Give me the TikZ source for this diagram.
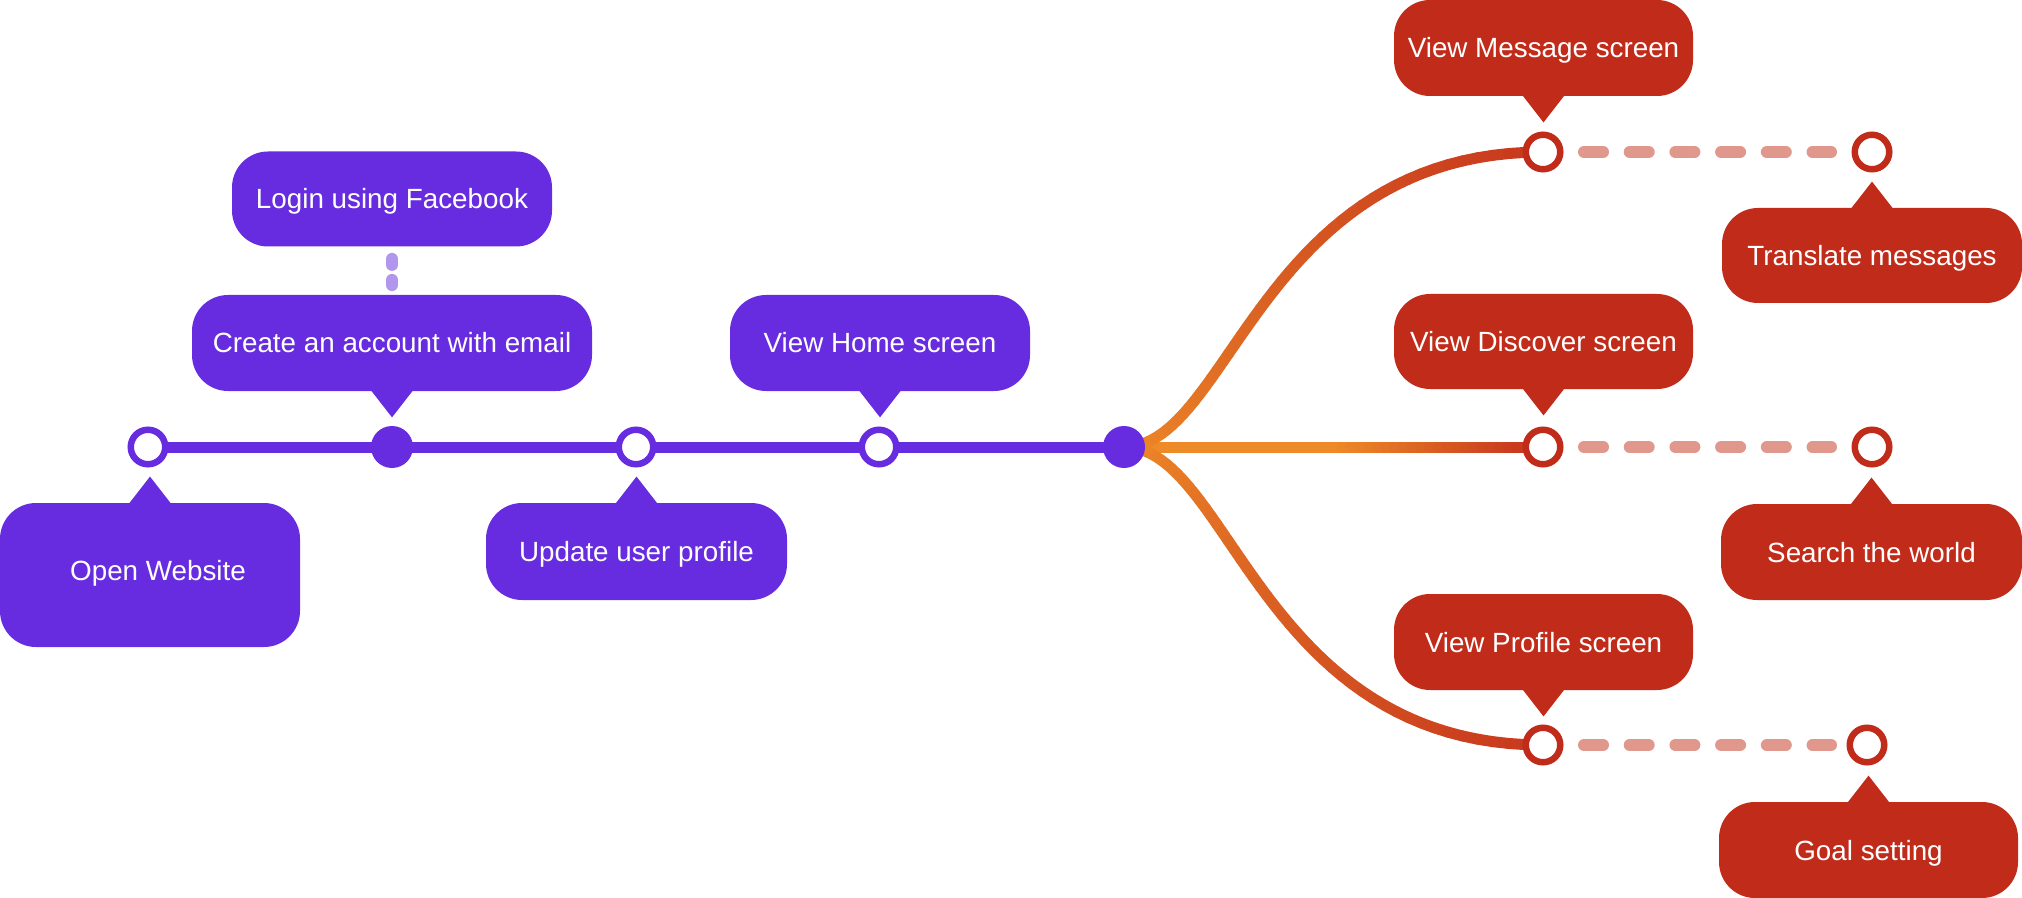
\documentclass[tikz,border=0pt]{standalone}
\usepackage{fontspec}
\setmainfont{Liberation Sans}
\usetikzlibrary{calc,backgrounds}
\definecolor{cpur}{HTML}{672CE0}
\definecolor{cpurl}{HTML}{B196EE}
\definecolor{cred}{HTML}{C12B1A}
\definecolor{credl}{HTML}{E0978C}
\definecolor{corange}{HTML}{EE8A28}
\definecolor{cendred}{HTML}{C8391D}
\begin{document}
\begin{tikzpicture}[x=0.5pt,y=-0.5pt,
  box/.style={rectangle, rounded corners=18pt, minimum height=48pt, inner sep=0pt,
    text=white, font=\fontsize{13.9pt}{16pt}\selectfont, text height=10pt, text depth=0pt},
  pbox/.style={box, fill=cpur},
  rbox/.style={box, fill=cred},
  ring/.style={circle, draw=#1, fill=white, line width=3.25pt, minimum size=17.25pt, inner sep=0pt},
  dotnode/.style={circle, fill=cpur, minimum size=21pt, inner sep=0pt},
  mainline/.style={line width=5.5pt},
  reddash/.style={draw=credl, line width=6pt, line cap=round, dash pattern=on 9.5pt off 13.35pt},
  purdash/.style={draw=cpurl, line width=6pt, line cap=round, dash pattern=on 3pt off 7.5pt}
]
\useasboundingbox (0,0) rectangle (2022,898);

% timeline nodes
\node[ring=cpur] (n1) at (148,447) {};
\node[dotnode] (n2) at (392,447) {};
\node[ring=cpur] (n3) at (636,447) {};
\node[ring=cpur] (n4) at (879,447) {};
\node[dotnode] (hub) at (1124,447) {};
\node[ring=cred] (m1) at (1543,152) {};
\node[ring=cred] (m2) at (1543,447) {};
\node[ring=cred] (m3) at (1543,745) {};
\node[ring=cred] (t1) at (1872,152) {};
\node[ring=cred] (t2) at (1872,447) {};
\node[ring=cred] (t3) at (1867,745) {};

% boxes
\node[pbox, minimum width=160pt, minimum height=47.5pt] (login) at (392,199) {Login using Facebook};
\node[pbox, minimum width=200pt] (create) at (392,343) {Create an account with email};
\node[pbox, minimum width=150pt, minimum height=72pt, text depth=5pt] (open) at (150,575) {\hspace*{8pt}Open Website};
\node[pbox, minimum width=150.5pt, minimum height=48.5pt] (update) at (636.5,551.5) {Update user profile};
\node[pbox, minimum width=150pt] (home) at (880,343) {View Home screen};
\node[rbox, minimum width=149.5pt] (msg) at (1543.5,48) {View Message screen};
\node[rbox, minimum width=150pt, minimum height=47.5pt] (trans) at (1872,255.5) {Translate messages};
\node[rbox, minimum width=149.5pt, minimum height=47.5pt] (disc) at (1543.5,341.5) {View Discover screen};
\node[rbox, minimum width=150.5pt] (search) at (1871.5,552) {Search the world};
\node[rbox, minimum width=149.5pt] (prof) at (1543.5,642) {View Profile screen};
\node[rbox, minimum width=149.5pt] (goal) at (1868.5,850) {Goal setting};

% pointers
\foreach \b/\c in {create/cpur, home/cpur, msg/cred, disc/cred, prof/cred}{
  \fill[\c] ($(\b.south)+(-21,-1)$) -- ($(\b.south)+(0,26)$) -- ($(\b.south)+(21,-1)$) -- cycle;
}
\foreach \b/\c in {open/cpur, update/cpur, trans/cred, search/cred, goal/cred}{
  \fill[\c] ($(\b.north)+(-21,1)$) -- ($(\b.north)+(0,-26)$) -- ($(\b.north)+(21,1)$) -- cycle;
}

\begin{scope}[on background layer]
  % purple main line
  \draw[mainline, draw=cpur] (n1.center) -- (hub.center);
  % dotted link
  \draw[purdash, shorten <=6pt, shorten >=4.75pt] (login.south) -- (create.north);
  % red dashed links
  \draw[reddash, shorten <=20.5pt, shorten >=20.5pt] (m1.center) -- (t1.center);
  \draw[reddash, shorten <=20.5pt, shorten >=20.5pt] (m2.center) -- (t2.center);
  \draw[reddash, shorten <=20.5pt, shorten >=18pt] (m3.center) -- (t3.center);
  % straight gradient branch
  \foreach \i in {0,...,47}{
    \pgfmathsetmacro\ta{\i/48}
    \pgfmathsetmacro\tb{(\i+1)/48}
    \pgfmathtruncatemacro\pc{max(0,min(100,round(100*((\i+0.5)/48-0.51)/0.44)))}
    \path (hub.center) -- (m2.center) coordinate[pos=\ta] (pa) coordinate[pos=\tb] (pb);
    \draw[mainline, line cap=round, draw=cendred!\pc!corange] (pa) -- (pb);
  }
  % curved gradient branches
  \foreach \tg in {m1,m3}{
    \foreach \i in {0,...,47}{
      \pgfmathsetmacro\ta{\i/48}
      \pgfmathsetmacro\tb{(\i+1)/48}
      \pgfmathtruncatemacro\pc{round(100*(\i+0.5)/48)}
      \path (hub.center) .. controls +(106,0) and +(-283,0) .. (\tg.center)
        coordinate[pos=\ta] (pa) coordinate[pos=\tb] (pb);
      \draw[mainline, line cap=round, draw=cendred!\pc!corange] (pa) -- (pb);
    }
  }
\end{scope}
\end{tikzpicture}
\end{document}
